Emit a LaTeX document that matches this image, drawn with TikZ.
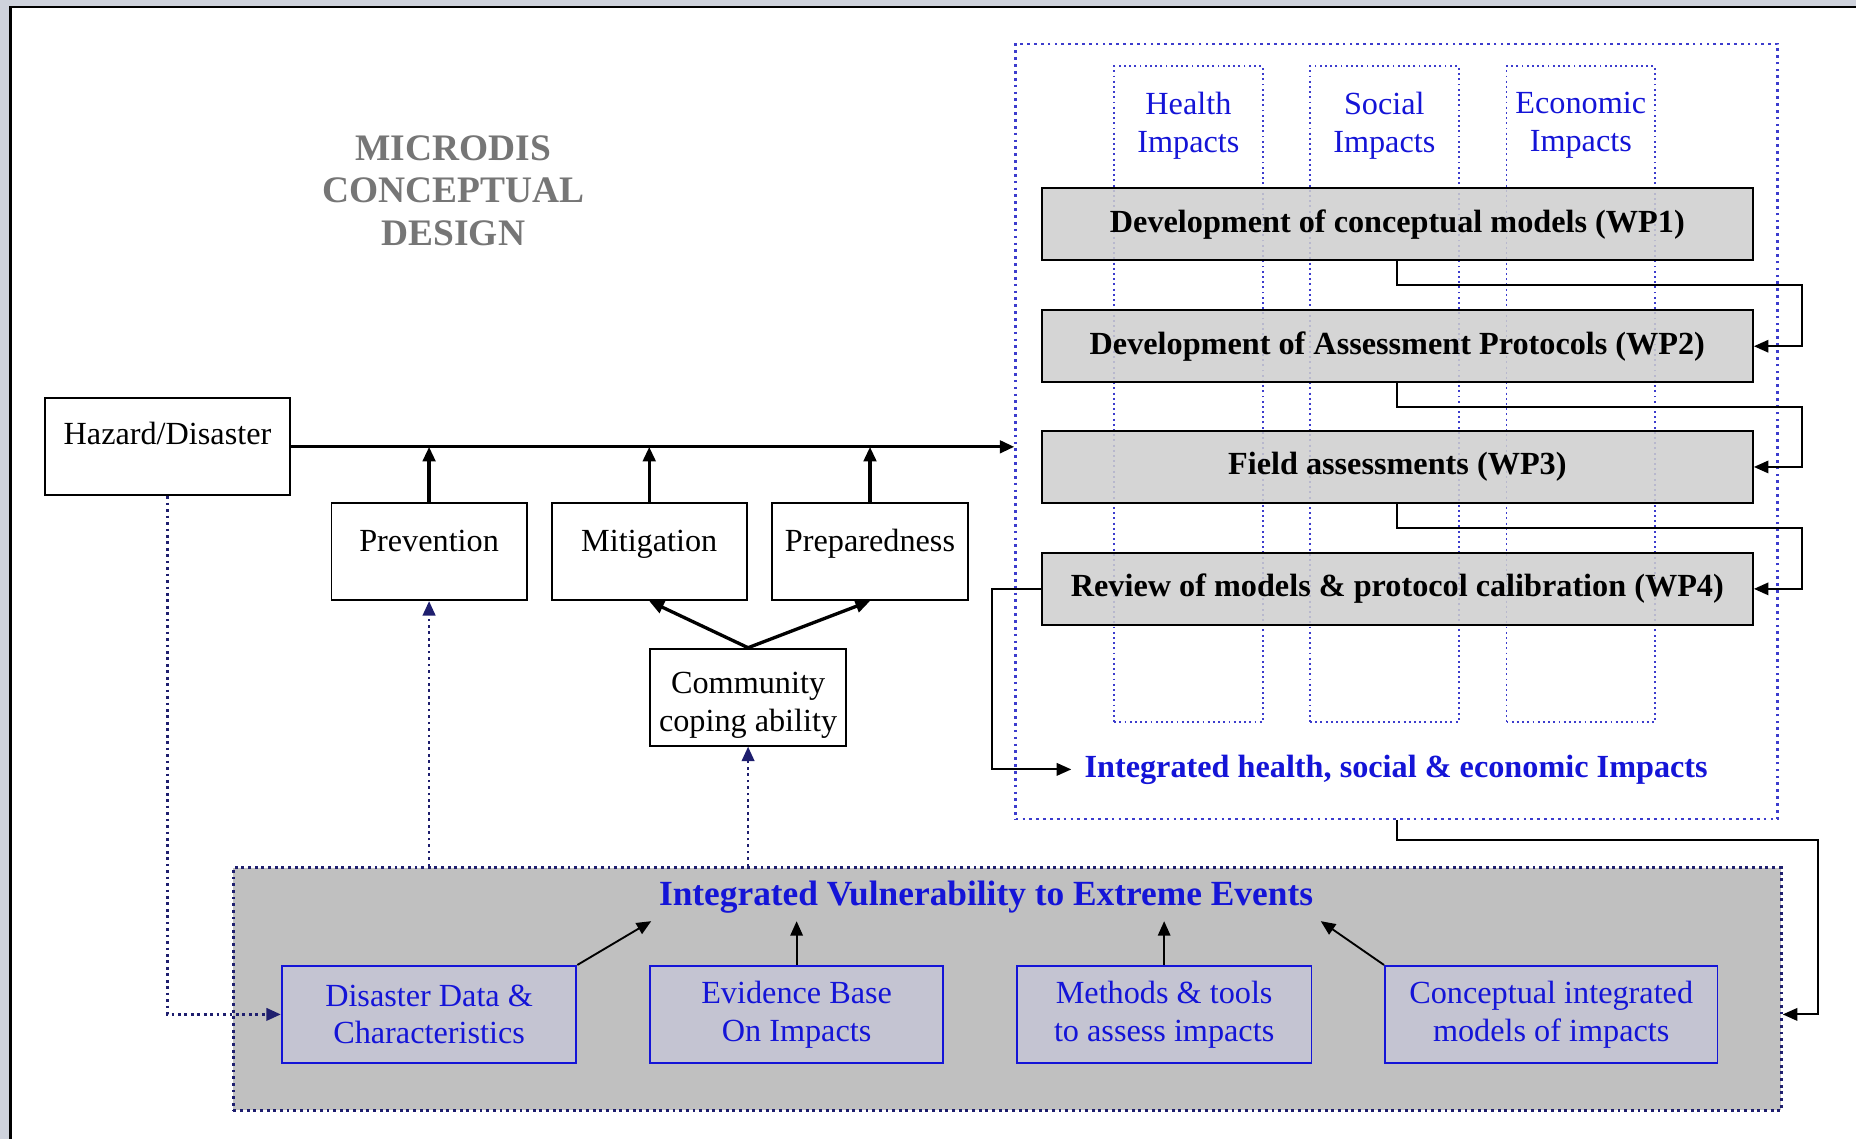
\documentclass[tikz,border=0pt]{standalone}
\usepackage{fontspec}
\setmainfont{Liberation Serif}
\usetikzlibrary{arrows.meta}
\definecolor{boxgray}{RGB}{192,192,192}
\definecolor{wpgray}{RGB}{206,206,206}
\definecolor{bluegray}{RGB}{196,196,210}
\definecolor{textblue}{RGB}{20,20,215}
\definecolor{dotnavy}{RGB}{30,30,110}
\definecolor{dotblue}{RGB}{60,60,205}
\definecolor{titlegray}{RGB}{118,118,118}
\definecolor{bandgray}{RGB}{206,210,220}

\begin{document}
\begin{tikzpicture}[x=0.02cm, y=-0.02cm, thick,
    >={Triangle[length=7pt,width=6pt]},
    box/.style={draw, line width=0.9pt, inner sep=0pt, minimum height=1.64cm},
    lbl/.style={font=\fontsize{15.5}{18.2}\selectfont, align=center, inner sep=1pt},
    oneline/.style={lbl, text height=11pt, text depth=3.5pt},
    wpbox/.style={draw, line width=0.9pt, fill=wpgray, fill opacity=0.85, text opacity=1,
      minimum width=12.02cm, minimum height=1.22cm, font=\fontsize{15.5}{18.2}\selectfont\bfseries},
    bluebox/.style={draw=textblue, line width=0.9pt, fill=bluegray, minimum height=1.64cm,
      text=textblue, align=center, font=\fontsize{15.5}{18.2}\selectfont},
    column/.style={draw=dotblue, line width=0.9pt, dash pattern=on 0.9pt off 1.6pt,
      minimum width=2.51cm, minimum height=11.08cm},
    mainline/.style={line width=1.6pt, ->},
    conn/.style={line width=0.9pt},
    dotarrow/.style={draw=dotnavy, line width=1.3pt, dash pattern=on 1.3pt off 1.8pt, ->}]
  \useasboundingbox (0,0) rectangle (1568,962);

  % Draw the page frame
  \fill[bandgray] (0,0) rectangle (1568,5);
  \fill[bandgray] (0,0) rectangle (8,962);
  \draw[line width=1.2pt] (9,962) -- (9,6) -- (1568,6);

  % Title
  \node[font=\fontsize{18}{20.5}\selectfont\bfseries, text=titlegray, align=center] (title) at (383,161) {MICRODIS\\CONCEPTUAL\\DESIGN};

  % Draw the boxes on the left
  \node[box, minimum width=4.14cm] (hazard) at (141.5,377.5) {};
  \node[oneline] (hazardtxt) at (141.5,369) {Hazard/Disaster};
  \node[box, minimum width=3.3cm] (prevention) at (362.5,466) {};
  \node[oneline] (preventiontxt) at (362.5,459) {Prevention};
  \node[box, minimum width=3.3cm] (mitigation) at (548.5,466) {};
  \node[oneline] (mitigationtxt) at (548.5,459) {Mitigation};
  \node[box, minimum width=3.3cm] (preparedness) at (735,466) {};
  \node[oneline] (preparednesstxt) at (735,459) {Preparedness};
  \node[box, minimum width=3.32cm] (community) at (632,589) {};
  \node[lbl] (communitytxt) at (632,596) {Community\\coping ability};

  % Draw the impacts frame and its columns
  \node[draw=dotblue, line width=1.3pt, dash pattern=on 1.3pt off 2pt, minimum width=12.88cm, minimum height=13.1cm] (frame) at (1180,364.5) {};
  \node[column] (health) at (1004,333) {};
  \node[column] (social) at (1169.5,333) {};
  \node[column] (economic) at (1335.5,333) {};
  \node[lbl, text=textblue] (healthtxt) at (1004,106) {Health\\Impacts};
  \node[lbl, text=textblue] (socialtxt) at (1169.5,106) {Social\\Impacts};
  \node[lbl, text=textblue] (economictxt) at (1335.5,106) {Economic\\Impacts};

  % Work packages
  \node[wpbox] (wp1) at (1180.5,189.5) {Development of conceptual models (WP1)};
  \node[wpbox] (wp2) at (1180.5,292.5) {Development of Assessment Protocols (WP2)};
  \node[wpbox] (wp3) at (1180.5,394.5) {Field assessments (WP3)};
  \node[wpbox] (wp4) at (1180.5,497.5) {Review of models \& protocol calibration (WP4)};
  \node[font=\fontsize{15.5}{18.2}\selectfont\bfseries, text=textblue, inner xsep=6pt] (integ) at (1179.5,650) {Integrated health, social \& economic Impacts};

  % Vulnerability box
  \node[draw=dotnavy, fill=boxgray, line width=1.4pt, dash pattern=on 1.4pt off 1.8pt, minimum width=26.16cm, minimum height=4.1cm] (vuln) at (851,835.5) {};
  \node[font=\fontsize{17}{20}\selectfont\bfseries, text=textblue] (vulntxt) at (833,758) {Integrated Vulnerability to Extreme Events};
  \node[bluebox, minimum width=4.98cm] (data) at (362.5,857) {Disaster Data \&\\Characteristics};
  \node[bluebox, minimum width=4.96cm] (evidence) at (673,857) {Evidence Base\\On Impacts};
  \node[bluebox, minimum width=4.98cm] (methods) at (983.5,857) {Methods \& tools\\to assess impacts};
  \node[bluebox, minimum width=5.62cm] (conceptual) at (1310.5,857) {Conceptual integrated\\models of impacts};

  % Draw the arrows
  \draw[mainline] (hazard.east) -- (hazard.east -| frame.west);
  \foreach \b in {prevention, mitigation, preparedness}
    \draw[mainline] (\b.north) -- (\b.north |- hazard.east);
  \draw[mainline] (community.north) -- (mitigation.south);
  \draw[mainline] (community.north) -- (preparedness.south);
  \foreach \a/\b/\y in {wp1/wp2/241, wp2/wp3/344, wp3/wp4/446}
    \draw[conn, ->] (\a.south) |- (1522,\y) |- (\b.east);
  \draw[conn, ->] (wp4.west) -| (838,650) -- (integ.west);
  \draw[conn, ->] (frame.south) |- (1536,710) |- (vuln.east |- conceptual.east);
  \draw[conn, ->] (data.north east) -- (vulntxt.south west);
  \draw[conn, ->] (evidence.north) -- (evidence.north |- vulntxt.south);
  \draw[conn, ->] (methods.north) -- (methods.north |- vulntxt.south);
  \draw[conn, ->] (conceptual.north west) -- (vulntxt.south east);

  % Dotted links
  \draw[dotarrow] (hazard.south) |- (data.west);
  \draw[dotarrow] (prevention.south |- vuln.north) -- (prevention.south);
  \draw[dotarrow] (community.south |- vuln.north) -- (community.south);
\end{tikzpicture}
\end{document}
